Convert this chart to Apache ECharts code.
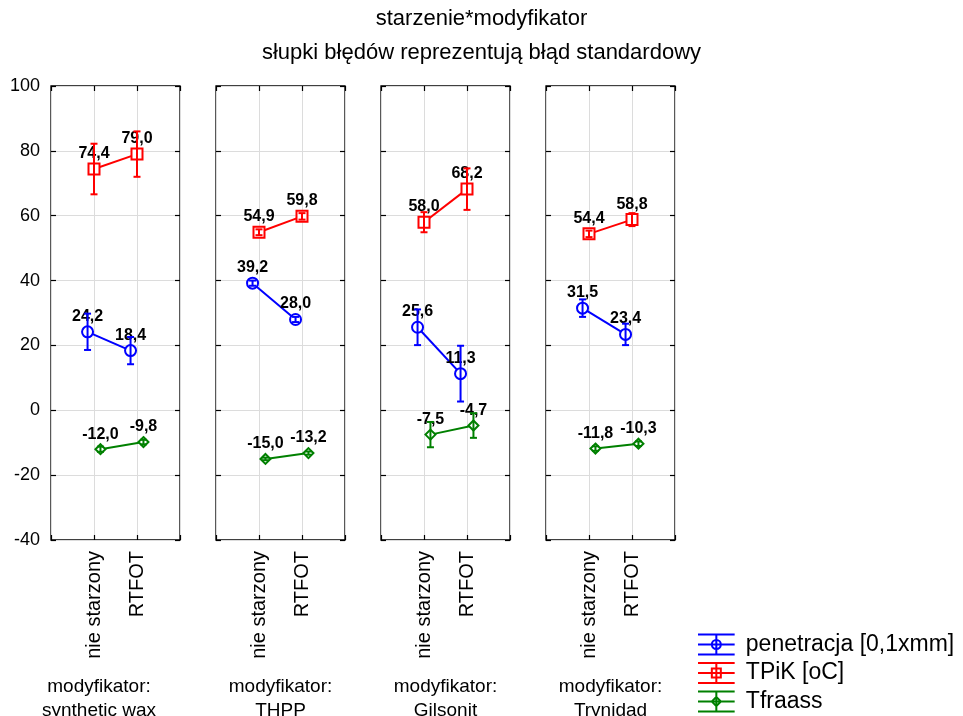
<!DOCTYPE html>
<html>
<head>
<meta charset="utf-8">
<script src="https://cdn.jsdelivr.net/npm/echarts@6/dist/echarts.min.js"></script>
<style>
  html, body { margin: 0; padding: 0; background: #fff; }
  #main { width: 963px; height: 716px; }
</style>
</head>
<body>
<div id="main"></div>
<script>
// data (mean values and standard errors)
var panels = ['synthetic wax', 'THPP', 'Gilsonit', 'Trynidad']
var ageing = ['nie starzony', 'RTFOT']
var seriesNames = ['penetracja [0,1xmm]', 'TPiK [oC]', 'Tfraass']

var penetracja = [[24.2, 18.4], [39.2, 28.0], [25.6, 11.3], [31.5, 23.4]]
var penetracjaSE = [[5.6, 4.2], [0.8, 0.8], [5.5, 8.6], [2.7, 3.3]]
var tpik = [[74.4, 79.0], [54.9, 59.8], [58.0, 68.2], [54.4, 58.8]]
var tpikSE = [[7.8, 7.0], [0.9, 1.0], [3.1, 6.4], [1.0, 2.0]]
var tfraass = [[-12.0, -9.8], [-15.0, -13.2], [-7.5, -4.7], [-11.8, -10.3]]
var tfraassSE = [[0.8, 0.7], [0.4, 0.5], [3.9, 3.8], [0.7, 0.7]]

var yTicks = { min: -40, max: 100, interval: 20 }

var FONT = "'Liberation Sans', Arial, sans-serif"
var colors = ['#0000ff', '#ff0000', '#008000']
var symbols = ['emptyCircle', 'emptyRect', 'emptyDiamond']
var symbolSizes = [11, 11, 10]
var offsets = [-0.15, 0, 0.15]
var means = [penetracja, tpik, tfraass]
var errors = [penetracjaSE, tpikSE, tfraassSE]

function rect(x, y, w, h) {
  return 'M' + x + ' ' + y + 'h' + w + 'v' + h + 'h' + (-w) + 'z'
}
var barIcon = rect(0, 0, 40, 2.2) + rect(0, 10.9, 40, 2.2) + rect(0, 21.8, 40, 2.2) + rect(18.9, 0, 2.2, 24)
var markerIcons = [
  'M26 12A6 6 0 1 1 14 12A6 6 0 1 1 26 12Z M23.8 12A3.8 3.8 0 1 0 16.2 12A3.8 3.8 0 1 0 23.8 12Z',
  rect(14, 6, 12, 12) + 'M16.2 8.2v7.6h7.6v-7.6z',
  'M20 5.5L26.5 12L20 18.5L13.5 12Z M20 8.5L16.5 12L20 15.5L23.5 12Z'
]

var grids = [], xAxes = [], yAxes = [], series = []
var gridLeft = 51, gridStep = 165, gridWidth = 129
var tick = { inside: true, length: 5, lineStyle: { color: '#000', width: 1.2 } }

panels.forEach(function (panel, i) {
  grids.push({
    left: gridLeft + i * gridStep, top: 86, width: gridWidth, height: 454,
    show: true, borderColor: '#000', borderWidth: 1.3,
    outerBoundsMode: 'none', containLabel: false
  })
  // bottom axis with category labels and panel name
  xAxes.push({
    gridIndex: i, type: 'value', min: 0, max: 3, interval: 1, position: 'bottom',
    axisLine: { show: false, onZero: false },
    axisTick: tick,
    axisLabel: {
      rotate: 90, margin: 11, fontSize: 20, color: '#000', fontFamily: FONT,
      formatter: function (v) { return ageing[v - 1] || '' }
    },
    splitLine: { show: true, lineStyle: { color: '#dcdcdc', width: 1 } },
    name: 'modyfikator:\n' + panel, nameLocation: 'middle', nameGap: 135,
    nameTextStyle: {
      fontSize: 19, color: '#000', fontFamily: FONT, lineHeight: 24, verticalAlign: 'top',
      padding: i === 0 ? [0, 33, 0, 0] : 0
    }
  })
  xAxes.push({
    gridIndex: i, type: 'value', min: 0, max: 3, interval: 1, position: 'top',
    axisLine: { show: false, onZero: false }, axisLabel: { show: false }, splitLine: { show: false },
    axisTick: tick
  })
  yAxes.push({
    gridIndex: i, type: 'value', min: yTicks.min, max: yTicks.max, interval: yTicks.interval, position: 'left',
    axisLine: { show: false, onZero: false },
    axisTick: tick,
    axisLabel: { show: i === 0, fontSize: 18, color: '#000', fontFamily: FONT, margin: 11 },
    splitLine: { show: true, lineStyle: { color: '#dcdcdc', width: 1 } }
  })
  yAxes.push({
    gridIndex: i, type: 'value', min: yTicks.min, max: yTicks.max, interval: yTicks.interval, position: 'right',
    axisLine: { show: false, onZero: false }, axisLabel: { show: false }, splitLine: { show: false },
    axisTick: tick
  })

  seriesNames.forEach(function (name, s) {
    var pts = ageing.map(function (a, k) { return [k + 1 + offsets[s], means[s][i][k]] })
    var bars = ageing.map(function (a, k) {
      return [k + 1 + offsets[s], means[s][i][k] - errors[s][i][k], means[s][i][k] + errors[s][i][k]]
    })
    series.push({
      name: name, type: 'line', xAxisIndex: i * 2, yAxisIndex: i * 2,
      data: pts, symbol: symbols[s], symbolSize: symbolSizes[s],
      lineStyle: { color: colors[s], width: 2 },
      itemStyle: { color: colors[s], borderWidth: 1.8 },
      label: {
        show: true, position: 'top', distance: 1, color: '#000', fontWeight: 'bold',
        fontSize: 16, fontFamily: FONT,
        formatter: function (p) { return p.value[1].toFixed(1).replace('.', ',') }
      },
      emphasis: { disabled: true }, z: 3
    })
    series.push({
      name: name, type: 'custom', xAxisIndex: i * 2, yAxisIndex: i * 2,
      data: bars, encode: { x: 0, y: [1, 2] },
      itemStyle: { color: colors[s] },
      renderItem: function (params, api) {
        var x = api.value(0)
        var top = api.coord([x, api.value(2)])
        var bot = api.coord([x, api.value(1)])
        var w = 3.5
        var st = { stroke: colors[s], lineWidth: 2 }
        return {
          type: 'group',
          children: [
            { type: 'line', shape: { x1: top[0], y1: top[1], x2: bot[0], y2: bot[1] }, style: st },
            { type: 'line', shape: { x1: top[0] - w, y1: top[1], x2: top[0] + w, y2: top[1] }, style: st },
            { type: 'line', shape: { x1: bot[0] - w, y1: bot[1], x2: bot[0] + w, y2: bot[1] }, style: st }
          ]
        }
      },
      silent: true, z: 4
    })
  })
})

var myChart = echarts.init(document.getElementById('main'))
myChart.setOption({
  animation: false,
  title: {
    text: 'starzenie*modyfikator\nsłupki błędów reprezentują błąd standardowy',
    left: 'center', top: -3,
    textStyle: { fontSize: 22, fontWeight: 'normal', color: '#000', fontFamily: FONT, lineHeight: 34 }
  },
  legend: {
    orient: 'vertical', left: 698, top: 633, padding: 0,
    itemWidth: 39, itemHeight: 22, itemGap: 5.5,
    itemStyle: { borderWidth: 0 },
    textStyle: { fontSize: 23, color: '#000', fontFamily: FONT, padding: [0, 0, 0, 5] },
    data: seriesNames.map(function (n, s) {
      return { name: n, icon: 'path://' + barIcon + markerIcons[s] }
    }),
    selectedMode: false
  },
  grid: grids,
  xAxis: xAxes,
  yAxis: yAxes,
  series: series
})
</script>
</body>
</html>
